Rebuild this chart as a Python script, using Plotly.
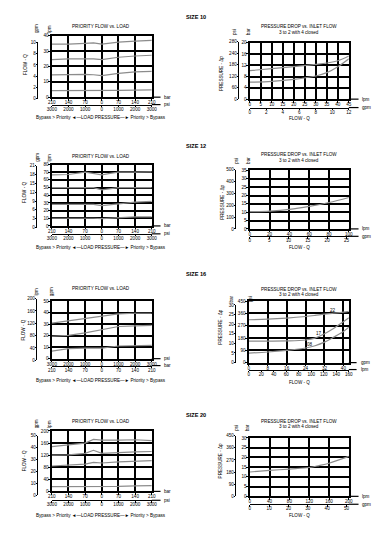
import plotly.graph_objects as go

W, H = 382, 535
OFF = 8            # default page body margin of the html page
FONT = "Liberation Sans, Arial, sans-serif"
FS = 4.6           # tick / small text size
GRID = "black"
LINE_COL = "#8c8c8c"

# ------------------------------------------------------------------ DATA
LOAD_TICKS = [-210, -140, -70, 0, 70, 140, 210]
LOAD_BAR_TEXT = ["210", "140", "70", "0", "70", "140", "210"]
LOAD_PSI_TEXT = ["3000", "2000", "1000", "0", "1000", "2000", "3000"]
CAPTION = "Bypass > Priority \u25c4\u2014LOAD PRESSURE\u2014\u25ba Priority > Bypass"

# SIZE 10 - priority flow vs load (lpm)
S10_PF_LOAD = [-210, -140, -70, -35, 0, 70, 140, 210]
S10_PF_1 = [34.5, 34.5, 35.0, 35.3, 34.5, 35.8, 36.5, 37.0]
S10_PF_2 = [24.5, 25.0, 25.0, 25.0, 24.5, 26.0, 26.8, 27.3]
S10_PF_3 = [14.5, 14.8, 14.8, 14.6, 14.0, 15.5, 16.5, 16.8]
S10_PF_4 = [4.3, 4.3, 4.3, 4.2, 4.1, 4.4, 4.6, 4.8]
# SIZE 10 - pressure drop (bar) vs inlet flow (lpm)
S10_PD_FLOW = [0, 10, 20, 30, 35, 40, 45]
S10_PD_HI = [10.1, 10.8, 11.5, 12.3, 12.8, 13.6, 15.3]
S10_PD_LO = [6.0, 6.3, 7.0, 8.2, 9.4, 11.5, 14.3]

# SIZE 12 - priority flow vs load (lpm)
S12_PF_LOAD = [-210, -140, -70, -35, 0, 35, 70, 140, 210]
S12_PF_1 = [66.5, 67.0, 70.0, 68.0, 66.5, 68.5, 70.0, 70.0, 70.5]
S12_PF_2 = [50.0, 50.0, 50.5, 50.0, 47.0, 49.0, 50.0, 50.0, 50.0]
S12_PF_3 = [28.0, 28.3, 28.7, 28.0, 26.5, 27.5, 28.3, 31.0, 32.0]
S12_PF_4 = [10.0, 10.2, 10.4, 10.0, 9.6, 10.3, 10.9, 11.7, 11.7]
# SIZE 12 - pressure drop (bar) vs inlet flow (lpm)
S12_PD_FLOW = [0, 20, 40, 60, 80, 100]
S12_PD = [10.3, 10.7, 11.7, 13.5, 15.8, 18.8]

# SIZE 16 - priority flow vs load (gpm)
S16_PF_LOAD = [-210, -140, -70, 0, 70, 140, 210]
S16_PF_1 = [31.0, 33.0, 35.0, 37.0, 39.0, 39.5, 39.5]
S16_PF_2 = [19.5, 20.2, 22.5, 25.5, 28.0, 28.5, 29.0]
S16_PF_3 = [6.6, 8.7, 9.2, 9.2, 11.0, 11.6, 11.6]
# SIZE 16 - pressure drop (psi) vs inlet flow (gpm)
S16_PD_FLOW = [0, 8, 16, 24, 28, 32, 36, 40, 42.3]
S16_PD_22 = [314, 318, 326, 338, 346, 355, 362, 370, 376]
S16_PD_17 = [158, 158, 159, 166, 180, 212, 252, 300, 328]
S16_PD_08 = [70, 78, 90, 107, 124, 150, 187, 228, 260]
S16_CURVE_NAMES = ["22", "17", "08"]

# SIZE 20 - priority flow vs load (lpm)
S20_PF_LOAD = [-210, -140, -70, -35, 0, 70, 140, 210]
S20_PF_1 = [148, 155, 160, 172, 170, 170, 171, 168]
S20_PF_2 = [120, 121, 126, 136, 126, 129, 131, 132]
S20_PF_3 = [84, 86, 90, 96, 94, 98, 100, 102]
S20_PF_4 = [16, 16, 16, 16, 16, 16.5, 18.5, 19]
# SIZE 20 - pressure drop (bar) vs inlet flow (lpm)
S20_PD_FLOW = [0, 40, 80, 120, 140, 160, 200]
S20_PD = [12.5, 13.3, 14.0, 14.8, 15.8, 17.0, 20.5]


def rng(a, b, s):
    out, v = [], a
    while v <= b + 1e-9:
        out.append(v)
        v += s
    return out


# ------------------------------------------------------------------ helpers
FW, FH = W - OFF, H - OFF


def px(x):
    return (x - OFF) / FW


def py(y):
    return 1 - (y - OFF) / FH


fig = go.Figure()
layout = dict(width=FW, height=FH, margin=dict(l=0, r=0, t=0, b=0),
              paper_bgcolor="white", plot_bgcolor="rgba(0,0,0,0)",
              showlegend=False, font=dict(family=FONT, color="black", size=FS))
annotations = []
shapes = []


def key(p, n):
    return (p + "axis") if n == 1 else f"{p}axis{n}"


def ref(p, n):
    return p if n == 1 else f"{p}{n}"


def text(x, y, s, size=FS, angle=0, bold=False, xanchor="center"):
    if bold:
        s = f"<b>{s}</b>"
    annotations.append(dict(x=px(x), y=py(y), xref="paper", yref="paper", text=s,
                            showarrow=False, textangle=angle, xanchor=xanchor,
                            yanchor="middle", font=dict(size=size, family=FONT, color="black")))


def hline(x0, x1, y, w=1.2):
    shapes.append(dict(type="line", xref="paper", yref="paper", x0=px(x0), x1=px(x1),
                       y0=py(y), y1=py(y), line=dict(color="black", width=w)))


def panel(k, frame, xr, xtv, xtt, yr, ytv, row2, outer, series, spline=False):
    x0, x1, y0, y1 = frame
    m, s = 2 * k + 1, 2 * k + 2
    tf = dict(size=FS, family=FONT, color="black")
    common = dict(ticks="outside", ticklen=1.5, tickwidth=1, tickcolor="black",
                  tickfont=tf, zeroline=False, fixedrange=True)
    layout[key("x", m)] = dict(domain=[px(x0), px(x1)], anchor=ref("y", m), range=xr,
                               tickvals=xtv, ticktext=xtt, showgrid=True, gridcolor=GRID,
                               gridwidth=1.6, showline=True, mirror=True, linecolor="black",
                               linewidth=1.8, ticklabelstandoff=-2, **common)
    layout[key("y", m)] = dict(domain=[py(y1), py(y0)], anchor=ref("x", m), range=yr,
                               tickvals=ytv, showgrid=True, gridcolor=GRID, gridwidth=1.6,
                               showline=True, mirror=True, linecolor="black", linewidth=1.8,
                               ticklabelstandoff=-1, **common)
    layout[key("x", s)] = dict(domain=[px(x0), px(x1)], anchor="free", position=py(row2["y"]),
                               range=row2["range"], tickvals=row2["tickvals"],
                               ticktext=row2.get("ticktext"), showgrid=False, showline=True,
                               linecolor="black", linewidth=1, ticklabelstandoff=-2, **common)
    layout[key("y", s)] = dict(domain=[py(outer["y0"]), py(outer["y1"])], anchor="free",
                               position=px(outer["x"]), range=outer["range"],
                               tickvals=outer["tickvals"], ticktext=outer.get("ticktext"),
                               side="left", showgrid=False, showline=True, linecolor="black",
                               linewidth=1, ticklabelstandoff=-1, **common)
    fig.add_trace(go.Scatter(x=[], y=[], xaxis=ref("x", s), yaxis=ref("y", s),
                             hoverinfo="skip", showlegend=False))
    for xs, ys in series:
        fig.add_trace(go.Scatter(x=xs, y=ys, mode="lines", xaxis=ref("x", m), yaxis=ref("y", m),
                                 line=dict(color=LINE_COL, width=1.2,
                                           shape="spline" if spline else "linear"),
                                 hoverinfo="skip", showlegend=False))


# ------------------------------------------------------------------ SIZE 10
text(197, 15, "SIZE 10", size=5.6, bold=True)
panel(0, (48, 151, 34, 96), [-210, 210], LOAD_TICKS, LOAD_BAR_TEXT, [0, 40], rng(0, 40, 10),
      dict(y=103.5, range=[-210, 210], tickvals=LOAD_TICKS, ticktext=LOAD_PSI_TEXT),
      dict(x=33, y0=97.7, y1=40.7, range=[0, 10], tickvals=rng(0, 10, 2)),
      [(S10_PF_LOAD, S10_PF_1), (S10_PF_LOAD, S10_PF_2), (S10_PF_LOAD, S10_PF_3),
       (S10_PF_LOAD, S10_PF_4)])
text(99, 25, "PRIORITY FLOW vs. LOAD")
text(33, 27, "gpm", angle=-90)
text(46, 27, "lpm", angle=-90)
text(21, 63, "FLOW - Q", angle=-90)
hline(151, 160, 96)
hline(151, 160, 103.5)
text(162, 96, "bar", xanchor="left")
text(162, 103.5, "psi", xanchor="left")
text(99, 117, CAPTION)

panel(1, (252, 354, 41, 98), [0, 45], rng(0, 45, 5), None, [0, 20], rng(0, 20, 4),
      dict(y=106.5, range=[0, 12], tickvals=rng(0, 12, 2)),
      dict(x=240, y0=98, y1=40, range=[0, 300], tickvals=rng(0, 300, 60),
           ticktext=["0", "60", "120", "180", "240", "280"]),
      [(S10_PD_FLOW, S10_PD_HI), (S10_PD_FLOW, S10_PD_LO)], spline=True)
text(303, 25, "PRESSURE DROP vs. INLET FLOW")
text(303, 30.5, "3 to 2 with 4 closed")
text(237, 30, "psi", angle=-90)
text(250.5, 30, "bar", angle=-90)
text(223, 72, "PRESSURE - \u0394p", angle=-90)
hline(354, 364, 98)
hline(354, 364, 106.5)
text(366, 98, "lpm", xanchor="left")
text(366, 106.5, "gpm", xanchor="left")
text(303, 117.5, "FLOW - Q")

# ------------------------------------------------------------------ SIZE 12
text(197, 145, "SIZE 12", size=5.6, bold=True)
panel(2, (48, 151, 164, 226), [-210, 210], LOAD_TICKS, LOAD_BAR_TEXT, [0, 80], rng(0, 80, 10),
      dict(y=234, range=[-210, 210], tickvals=LOAD_TICKS, ticktext=LOAD_PSI_TEXT),
      dict(x=32, y0=227.7, y1=165, range=[0, 21], tickvals=rng(0, 21, 3)),
      [(S12_PF_LOAD, S12_PF_1), (S12_PF_LOAD, S12_PF_2), (S12_PF_LOAD, S12_PF_3),
       (S12_PF_LOAD, S12_PF_4)])
text(99, 156, "PRIORITY FLOW vs. LOAD")
text(33, 157, "gpm", angle=-90)
text(46, 157, "lpm", angle=-90)
text(20, 192, "FLOW - Q", angle=-90)
hline(151, 160, 226)
hline(151, 160, 234)
text(162, 226, "bar", xanchor="left")
text(162, 234, "psi", xanchor="left")
text(99, 247.5, CAPTION)

panel(3, (252, 354, 170, 229), [0, 100], rng(0, 100, 20), None, [0, 35], rng(0, 35, 5),
      dict(y=236.5, range=[0, 25.6], tickvals=rng(0, 25, 5)),
      dict(x=237, y0=229, y1=169.3, range=[0, 500], tickvals=rng(0, 500, 100)),
      [(S12_PD_FLOW, S12_PD)], spline=True)
text(303, 154, "PRESSURE DROP vs. INLET FLOW")
text(303, 159.5, "3 to 2 with 4 closed")
text(238, 160, "psi", angle=-90)
text(250.5, 160, "bar", angle=-90)
text(223, 202, "PRESSURE - \u0394p", angle=-90)
hline(354, 364, 229)
hline(354, 364, 236.5)
text(366, 229, "lpm", xanchor="left")
text(366, 236.5, "gpm", xanchor="left")
text(303, 247.5, "FLOW - Q")

# ------------------------------------------------------------------ SIZE 16
text(197, 275, "SIZE 16", size=5.6, bold=True)
panel(4, (48, 151, 302, 360), [-210, 210], LOAD_TICKS, LOAD_PSI_TEXT, [0, 50], rng(0, 50, 10),
      dict(y=367, range=[-210, 210], tickvals=LOAD_TICKS, ticktext=LOAD_BAR_TEXT),
      dict(x=32, y0=361.7, y1=299.3, range=[0, 200], tickvals=rng(0, 200, 40)),
      [(S16_PF_LOAD, S16_PF_1), (S16_PF_LOAD, S16_PF_2), (S16_PF_LOAD, S16_PF_3)])
text(99, 289, "PRIORITY FLOW vs. LOAD")
text(32, 292, "lpm", angle=-90)
text(47, 292, "gpm", angle=-90)
text(19, 331, "FLOW - Q", angle=-90)
hline(151, 160, 360)
hline(151, 160, 367)
text(162, 360, "psi", xanchor="left")
text(162, 367, "bar", xanchor="left")
text(99, 382, CAPTION)

panel(5, (251, 354, 302, 364), [0, 42.3], rng(0, 40, 8), None, [0, 450], rng(0, 450, 90),
      dict(y=371, range=[0, 160], tickvals=rng(0, 160, 20)),
      dict(x=237, y0=364, y1=305.7, range=[0, 30], tickvals=rng(0, 30, 5)),
      [(S16_PD_FLOW, S16_PD_22), (S16_PD_FLOW, S16_PD_17), (S16_PD_FLOW, S16_PD_08)],
      spline=True)
text(303, 290, "PRESSURE DROP vs. INLET FLOW")
text(303, 295.5, "3 to 2 with 4 closed")
text(233, 300, "bar", angle=-90)
text(252, 300, "psi", angle=-90)
text(222, 328, "PRESSURE - \u0394p", angle=-90)
text(338, 311, S16_CURVE_NAMES[0])
text(323, 335, S16_CURVE_NAMES[1])
text(314, 346, S16_CURVE_NAMES[2])
hline(354, 362, 364)
hline(354, 362, 371)
text(364, 364, "gpm", xanchor="left")
text(364, 371, "lpm", xanchor="left")
text(303, 384, "FLOW - Q")

# ------------------------------------------------------------------ SIZE 20
text(197, 417, "SIZE 20", size=5.6, bold=True)
panel(6, (48, 151, 433, 494), [-210, 210], LOAD_TICKS, LOAD_BAR_TEXT, [0, 200], rng(0, 200, 40),
      dict(y=503, range=[-210, 210], tickvals=LOAD_TICKS, ticktext=LOAD_PSI_TEXT),
      dict(x=33, y0=497.7, y1=437.7, range=[0, 50], tickvals=rng(0, 50, 10)),
      [(S20_PF_LOAD, S20_PF_1), (S20_PF_LOAD, S20_PF_2), (S20_PF_LOAD, S20_PF_3),
       (S20_PF_LOAD, S20_PF_4)])
text(99, 423, "PRIORITY FLOW vs. LOAD")
text(32, 426, "gpm", angle=-90)
text(45, 426, "lpm", angle=-90)
text(20, 463, "FLOW - Q", angle=-90)
hline(151, 160, 494)
hline(151, 160, 503)
text(162, 494, "bar", xanchor="left")
text(162, 503, "psi", xanchor="left")
text(99, 518, CAPTION)

panel(7, (252, 354, 440, 499), [0, 200], rng(0, 200, 40), None, [0, 30], rng(0, 30, 5),
      dict(y=507, range=[0, 51.2], tickvals=rng(0, 50, 10)),
      dict(x=237, y0=499, y1=437.7, range=[0, 450], tickvals=rng(0, 450, 90)),
      [(S20_PD_FLOW, S20_PD)], spline=True)
text(303, 423, "PRESSURE DROP vs. INLET FLOW")
text(303, 428.5, "3 to 2 with 4 closed")
text(238.5, 430, "psi", angle=-90)
text(250.5, 430, "bar", angle=-90)
text(222, 463, "PRESSURE - \u0394p", angle=-90)
hline(354, 364, 499)
hline(354, 364, 507)
text(366, 499, "lpm", xanchor="left")
text(366, 507, "gpm", xanchor="left")
text(303, 518.5, "FLOW - Q")

layout["annotations"] = annotations
layout["shapes"] = shapes
fig.update_layout(**layout)
fig.write_html("out.html")
